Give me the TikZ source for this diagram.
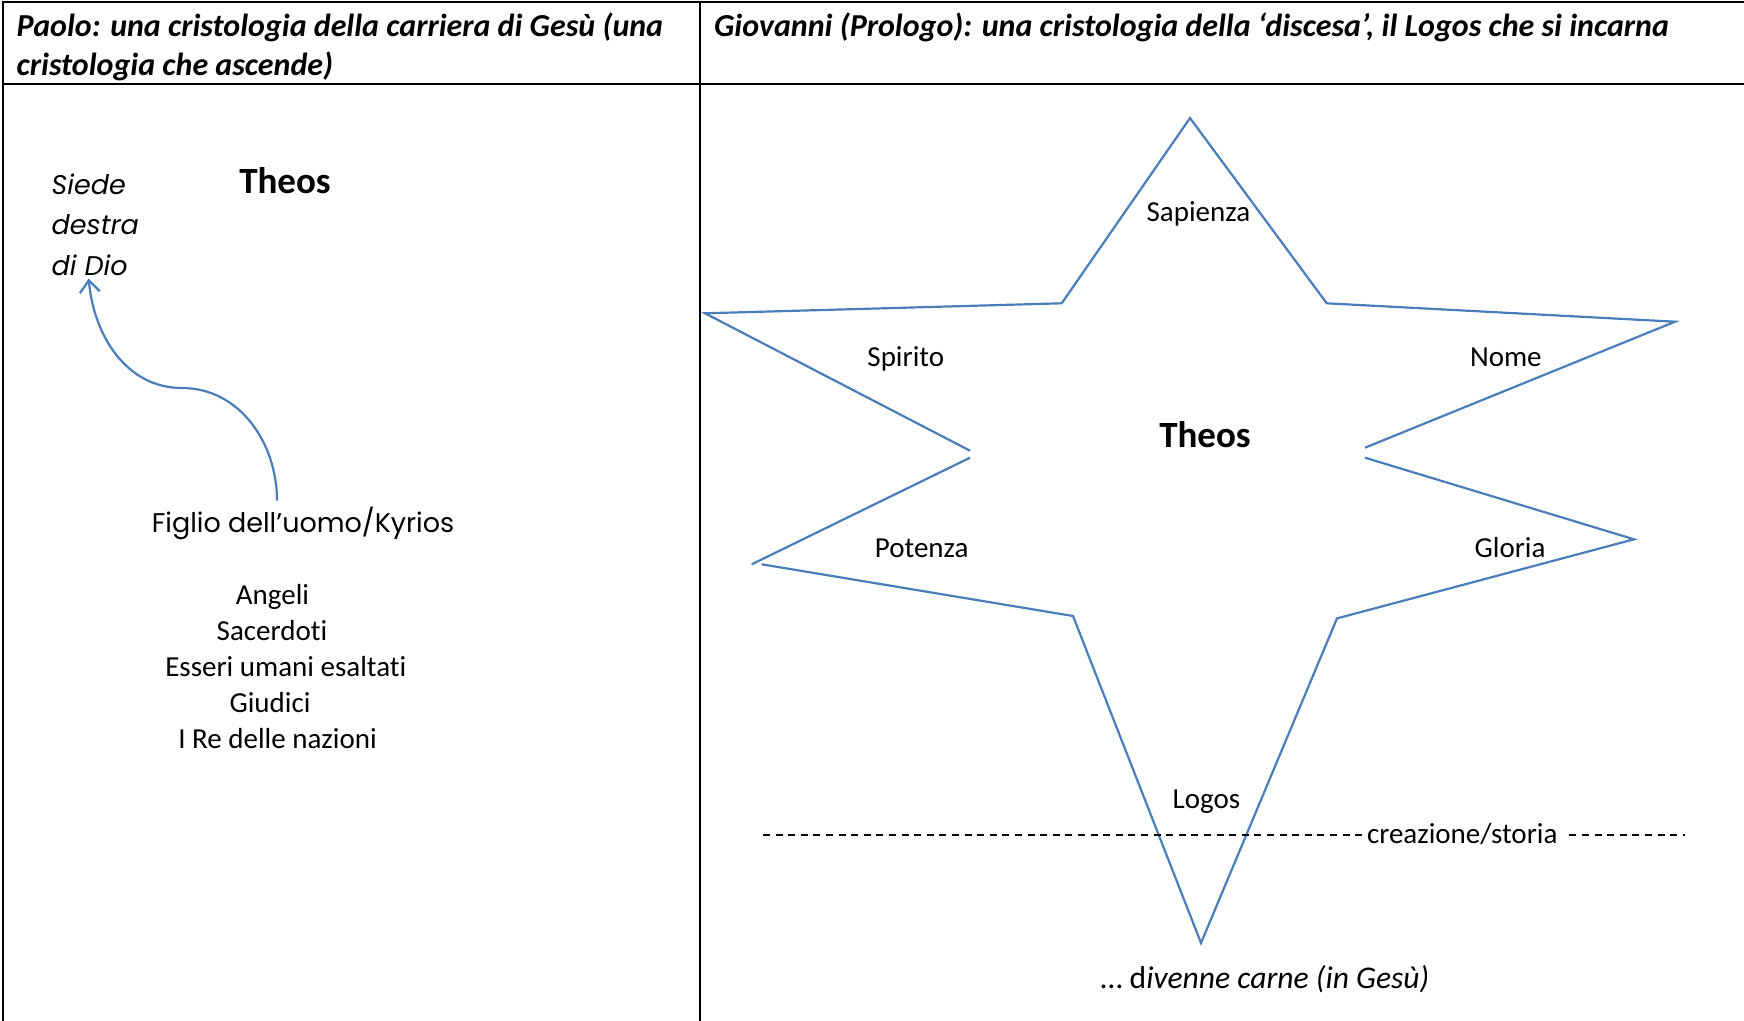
\documentclass[tikz,border=0pt]{standalone}
\usepackage{fontspec}
\setmainfont{Carlito}[Ligatures={TeX,NoCommon}]
\newfontfamily\comicfont{Poppins}
\usetikzlibrary{arrows.meta,calc}
\definecolor{starblue}{RGB}{74,126,187}
\begin{document}
\begin{tikzpicture}[x=0.5pt,y=-0.5pt,
  every node/.style={inner sep=0pt,outer sep=0pt},
  txt/.style={anchor=base,font=\fontsize{14.5}{18.35}\selectfont},
  head/.style={anchor=north west,align=left,font=\fontsize{16}{19.5}\selectfont\bfseries\itshape},
  theos/.style={anchor=base,font=\fontsize{18.5}{22}\selectfont\bfseries},
  comic/.style={font=\fontsize{13.5}{20.25}\selectfont\comicfont},
  star/.style={starblue,line width=1.1pt},
  grid/.style={black,line width=1pt},
  storia/.style={black,line width=0.8pt,dash pattern=on 3.5pt off 2.8pt}]
\useasboundingbox (0,0) rectangle (1744,1021);
\draw[grid] (3,1021) -- (3,2) -- (1744,2);
\draw[grid] (3,84) -- (1744,84);
\draw[grid] (700,2) -- (700,1021);
\node[head] (paolo) at (16.7,12.5) {Paolo: una cristologia della carriera di Gesù (una\\cristologia che ascende)};
\node[head] (giovanni) at (714,12.5) {Giovanni (Prologo): una cristologia della ‘discesa’, il Logos che si incarna};
% left column
\node[theos] (theosL) at (285,193.5) {Theos};
\node[comic,anchor=north west,align=left,font=\fontsize{13.5}{20.25}\selectfont\comicfont\itshape] (siede) at (51.7,173.8) {Siede\\destra\\di Dio};
\node[comic,anchor=base] (figlio) at (303,532) {Figlio dell’uomo/Kyrios};
\foreach \t/\x/\y [count=\i] in {Angeli/272.5/604.5, Sacerdoti/272/640.5, Esseri umani esaltati/285.8/676.5, Giudici/270/712.5, I Re delle nazioni/277.5/748.5}
  \node[txt] (rank\i) at (\x,\y) {\t};
\draw[star,-{Straight Barb[length=6pt,width=10pt]}] ($(figlio.north)+(-26,-6)$) to[out=90,in=0] (182,388) to[out=180,in=-85] ($(siede.south west)+(37,3)$);
% right column
\coordinate (top) at (1190,118);
\coordinate (ur) at (1326.7,303.3);
\coordinate (rtip) at (1675,321.7);
\coordinate (ra) at (1365,447.7);
\coordinate (rb) at (1365,457.7);
\coordinate (rltip) at (1634,539.3);
\coordinate (lr) at (1337,618.4);
\coordinate (bot) at (1201,943);
\coordinate (ll) at (1073,616);
\coordinate (lltipa) at (761.7,564.3);
\coordinate (lltipb) at (751.7,564.3);
\coordinate (la) at (970,450.7);
\coordinate (lb) at (970,457.7);
\coordinate (ltip) at (705,313.3);
\coordinate (ul) at (1061.7,303.3);
\draw[star] (ra) -- (rtip) -- (ur) -- (top) -- (ul) -- (ltip) -- (la);
\draw[star] (lb) -- (lltipb);
\draw[star] (lltipa) -- (ll) -- (bot) -- (lr) -- (rltip) -- (rb);
\node[theos] (theosR) at (1205,447) {Theos};
\node[txt] (sapienza) at (1198.4,221.3) {Sapienza};
\node[txt] (spirito) at (905.8,366.3) {Spirito};
\node[txt] (nome) at (1505.8,366.3) {Nome};
\node[txt] (potenza) at (921.7,557) {Potenza};
\node[txt] (gloria) at (1510,557) {Gloria};
\node[txt] (logos) at (1206.5,808) {Logos};
\node[txt,anchor=base west] (crea) at (1367,843) {creazione/storia};
\coordinate (dl) at (763,835);
\coordinate (dr) at (1685,835);
\draw[storia] (dl) -- (dl -| crea.west);
\draw[storia] ($(crea.east |- dr)+(12,0)$) -- (dr);
\node[txt,anchor=base west,font=\fontsize{15.8}{19}\selectfont] (carne) at (1100.7,988) {… d\textit{ivenne carne (in Gesù)}};
\end{tikzpicture}
\end{document}
